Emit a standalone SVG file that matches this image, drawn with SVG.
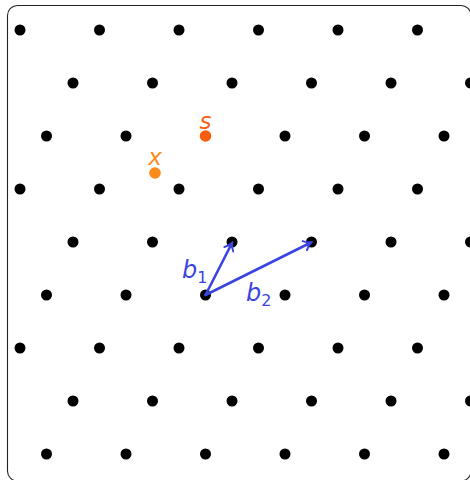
<svg xmlns="http://www.w3.org/2000/svg" width="470" height="480" viewBox="0 0 470 480">
<defs>
<style>
.dot{fill:#000}
.vec{stroke:#3b44e0;stroke-width:2.6;fill:none;stroke-linecap:round}
.lbl{font-family:"DejaVu Sans","Liberation Sans",sans-serif;font-style:italic}
.sub{font-family:"DejaVu Sans","Liberation Sans",sans-serif;font-style:normal}
</style>
<marker id="ah" viewBox="-10 -6 12 12" markerWidth="12" markerHeight="12" refX="0" refY="0" orient="auto" markerUnits="userSpaceOnUse">
<path d="M -7 -5 Q -3 -1 0 0 Q -3 1 -7 5" fill="none" stroke="#3b44e0" stroke-width="2" stroke-linecap="round"/>
</marker>
<circle id="d" r="5.5" class="dot"/>
</defs>
<rect x="7.5" y="5.5" width="463.5" height="475.5" rx="10" fill="#fff" stroke="#222" stroke-width="1.1"/>
<g id="lattice">
<g id="row0"><use href="#d" x="20" y="30"/><use href="#d" x="99.5" y="30"/><use href="#d" x="179" y="30"/><use href="#d" x="258.5" y="30"/><use href="#d" x="338" y="30"/><use href="#d" x="417.5" y="30"/></g>
<g id="row1"><use href="#d" x="73" y="83"/><use href="#d" x="152.5" y="83"/><use href="#d" x="232" y="83"/><use href="#d" x="311.5" y="83"/><use href="#d" x="391" y="83"/><use href="#d" x="470.5" y="83"/></g>
<g id="row2"><use href="#d" x="46.5" y="136"/><use href="#d" x="126" y="136"/><use href="#d" x="285" y="136"/><use href="#d" x="364.5" y="136"/><use href="#d" x="444" y="136"/></g>
<g id="row3"><use href="#d" x="20" y="189"/><use href="#d" x="99.5" y="189"/><use href="#d" x="179" y="189"/><use href="#d" x="258.5" y="189"/><use href="#d" x="338" y="189"/><use href="#d" x="417.5" y="189"/></g>
<g id="row4"><use href="#d" x="73" y="242"/><use href="#d" x="152.5" y="242"/><use href="#d" x="232" y="242"/><use href="#d" x="311.5" y="242"/><use href="#d" x="391" y="242"/><use href="#d" x="470.5" y="242"/></g>
<g id="row5"><use href="#d" x="46.5" y="295"/><use href="#d" x="126" y="295"/><use href="#d" x="205.5" y="295"/><use href="#d" x="285" y="295"/><use href="#d" x="364.5" y="295"/><use href="#d" x="444" y="295"/></g>
<g id="row6"><use href="#d" x="20" y="348"/><use href="#d" x="99.5" y="348"/><use href="#d" x="179" y="348"/><use href="#d" x="258.5" y="348"/><use href="#d" x="338" y="348"/><use href="#d" x="417.5" y="348"/></g>
<g id="row7"><use href="#d" x="73" y="401"/><use href="#d" x="152.5" y="401"/><use href="#d" x="232" y="401"/><use href="#d" x="311.5" y="401"/><use href="#d" x="391" y="401"/><use href="#d" x="470.5" y="401"/></g>
<g id="row8"><use href="#d" x="46.5" y="454"/><use href="#d" x="126" y="454"/><use href="#d" x="205.5" y="454"/><use href="#d" x="285" y="454"/><use href="#d" x="364.5" y="454"/><use href="#d" x="444" y="454"/></g>
</g>
<g id="node-s">
<circle cx="205.5" cy="136" r="5.8" fill="#f75c0f"/>
<text x="205.5" y="129" text-anchor="middle" class="lbl" font-size="23" fill="#f75c0f">s</text>
</g>
<g id="node-x">
<circle cx="155" cy="173" r="5.8" fill="#fb8c1c"/>
<text x="155" y="165" text-anchor="middle" class="lbl" font-size="23" fill="#fb8c1c">x</text>
</g>
<g id="connectors">
<line class="vec" x1="205.5" y1="295" x2="232" y2="243" marker-end="url(#ah)"/>
<line class="vec" x1="205.5" y1="295" x2="311" y2="242.5" marker-end="url(#ah)"/>
</g>
<g id="labels">
<text x="182" y="278" class="lbl" font-size="24" fill="#3b44e0">b<tspan class="sub" font-size="16" dy="5">1</tspan></text>
<text x="246" y="301" class="lbl" font-size="24" fill="#3b44e0">b<tspan class="sub" font-size="16" dy="5">2</tspan></text>
</g>
</svg>
